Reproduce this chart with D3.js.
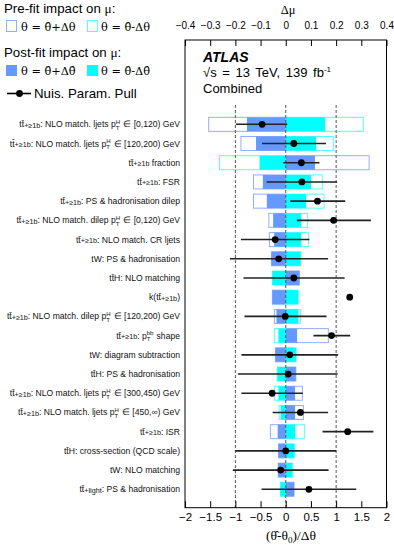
<!DOCTYPE html>
<html>
<head>
<meta charset="utf-8">
<script src="https://cdn.jsdelivr.net/npm/d3@7"></script>
<style>
  body { margin: 0; background: #fff; }
  svg { display: block; font-family: "Liberation Sans", Arial, sans-serif; }
</style>
</head>
<body>
<div id="chart"></div>
<script>
// nuisance parameter labels, top to bottom
var labels = [
  "{ttb}: NLO match. ljets {pTH} ∈ [0,120) GeV",
  "{ttb}: NLO match. ljets {pTH} ∈ [120,200) GeV",
  "{ttb} fraction",
  "{ttb}: FSR",
  "{ttb}: PS & hadronisation dilep",
  "{ttb}: NLO match. dilep {pTH} ∈ [0,120) GeV",
  "{ttb}: NLO match. CR ljets",
  "tW: PS & hadronisation",
  "{tt}H: NLO matching",
  "k({ttb})",
  "{ttb}: NLO match. dilep {pTH} ∈ [120,200) GeV",
  "{ttb}: {pTbb} shape",
  "tW: diagram subtraction",
  "{tt}H: PS & hadronisation",
  "{ttb}: NLO match. ljets {pTH} ∈ [300,450) GeV",
  "{ttb}: NLO match. ljets {pTH} ∈ [450,∞) GeV",
  "{ttb}: ISR",
  "{tt}H: cross-section (QCD scale)",
  "tW: NLO matching",
  "{ttl}: PS & hadronisation"
];

// impact on mu (delta mu)
var prefitUp   = [-0.306, -0.178, 0.331, -0.128, -0.128, -0.067, -0.065, -0.057, 0.054, -0.053, -0.045, 0.169, -0.041, 0.040, 0.066, 0.070, -0.061, -0.029, -0.030, 0.033];
var prefitDown = [0.308, 0.189, -0.263, 0.145, 0.152, 0.087, 0.090, 0.059, -0.053, 0.049, 0.058, -0.045, 0.041, -0.033, -0.045, -0.026, 0.074, 0.034, 0.026, -0.021];
var postfitUp   = [-0.154, -0.118, 0.116, -0.091, -0.075, -0.050, -0.046, -0.057, 0.054, -0.053, -0.037, 0.045, -0.041, 0.040, 0.037, 0.037, -0.032, -0.029, -0.030, 0.033];
var postfitDown = [0.156, 0.120, -0.104, 0.100, 0.081, 0.061, 0.061, 0.059, -0.053, 0.049, 0.050, -0.029, 0.041, -0.033, -0.029, -0.020, 0.037, 0.034, 0.026, -0.021];

// pulls (theta_hat - theta_0)/dtheta with errors
var pulls   = [-0.47, 0.16, 0.31, 0.32, 0.63, 0.95, -0.21, -0.14, 0.16, 1.27, -0.01, 0.91, 0.08, 0.05, -0.27, 0.29, 1.23, 0.00, -0.10, 0.46];
var pullLo  = [0.52, 0.63, 0.36, 0.70, 0.54, 0.73, 0.68, 0.97, 1.00, 0.05, 0.81, 0.36, 0.96, 1.00, 0.61, 0.55, 0.50, 1.00, 0.95, 0.94];
var pullHi  = [0.50, 0.64, 0.36, 0.70, 0.55, 0.74, 0.68, 0.98, 1.01, 0.05, 0.82, 0.37, 0.96, 0.98, 0.61, 0.55, 0.51, 1.00, 0.95, 0.94];

var W = 394, H = 547;
var pLeft = 185, pRight = 386.5, pTop = 40, pBottom = 507.7;
var blue = "#6699ff", cyan = "#00ffff";
var blueLine = "#8fb0ff", cyanLine = "#55ffff";
var serif = "'Liberation Serif', 'Times New Roman', serif";

var svg = d3.select("#chart").append("svg")
  .attr("width", W).attr("height", H);

var x = d3.scaleLinear().domain([-2, 2]).range([pLeft, pRight]);
var xMu = d3.scaleLinear().domain([-0.4, 0.4]).range([pLeft, pRight]);
var y = d3.scaleBand().domain(d3.range(labels.length)).range([114.7, 114.7 + 19.21 * labels.length]);
var fmt = d3.format("~g");

var rows = labels.map(function(l, i){
  return { i: i, label: l, preUp: prefitUp[i], preDn: prefitDown[i], postUp: postfitUp[i], postDn: postfitDown[i],
    pull: pulls[i], lo: pullLo[i], hi: pullHi[i] };
});

// bars helper
function bar(g, key, h, fill, stroke){
  g.selectAll("rect." + key)
    .data(rows).enter().append("rect")
    .attr("class", key)
    .attr("x", function(d){ return xMu(Math.min(0, d[key])); })
    .attr("width", function(d){ return Math.abs(xMu(d[key]) - xMu(0)); })
    .attr("y", function(d){ return y(d.i) + (y.bandwidth() - h) / 2; })
    .attr("height", h)
    .attr("fill", fill)
    .attr("stroke", stroke)
    .attr("stroke-width", stroke == "none" ? 0 : 1);
}

var gBars = svg.append("g");
bar(gBars, "preUp", 14, "none", blueLine);
bar(gBars, "preDn", 14, "none", cyanLine);
bar(gBars, "postUp", 14, blue, "none");
bar(gBars, "postDn", 14, cyan, "none");

// dashed reference lines
svg.append("g").selectAll("line")
  .data([-1, 0, 1]).enter().append("line")
  .attr("x1", function(d){ return x(d); }).attr("x2", function(d){ return x(d); })
  .attr("y1", 105).attr("y2", pBottom)
  .attr("stroke", "#555").attr("stroke-width", 1)
  .attr("stroke-dasharray", "3,2");

// pulls
var gPull = svg.append("g");
gPull.selectAll("line")
  .data(rows).enter().append("line")
  .attr("x1", function(d){ return x(d.pull - d.lo); })
  .attr("x2", function(d){ return x(d.pull + d.hi); })
  .attr("y1", function(d){ return y(d.i) + y.bandwidth() / 2; })
  .attr("y2", function(d){ return y(d.i) + y.bandwidth() / 2; })
  .attr("stroke", "#222").attr("stroke-width", 1.6);
gPull.selectAll("circle")
  .data(rows).enter().append("circle")
  .attr("cx", function(d){ return x(d.pull); })
  .attr("cy", function(d){ return y(d.i) + y.bandwidth() / 2; })
  .attr("r", 3.4)
  .attr("fill", "#000");

// frame
svg.append("rect")
  .attr("x", pLeft).attr("y", pTop)
  .attr("width", pRight - pLeft).attr("height", pBottom - pTop)
  .attr("fill", "none").attr("stroke", "#000").attr("stroke-width", 1);

// bottom axis
var gx = svg.append("g").attr("transform", "translate(0," + pBottom + ")");
gx.call(d3.axisBottom(x).tickValues(x.ticks(40)).tickSize(-3).tickFormat(""));
gx.call(d3.axisBottom(x).tickValues(x.ticks(8)).tickSize(-6.5).tickPadding(5.2).tickFormat(fmt));
gx.selectAll(".domain").remove();
gx.selectAll("text").attr("font-size", 11.5).attr("font-family", "'Liberation Sans', Arial, sans-serif").attr("fill", "#000");

// top axis
var gt = svg.append("g").attr("transform", "translate(0," + pTop + ")");
gt.call(d3.axisTop(xMu).tickValues(xMu.ticks(40)).tickSize(-3).tickFormat(""));
gt.call(d3.axisTop(xMu).tickValues(xMu.ticks(8)).tickSize(-6).tickPadding(11.5).tickFormat(fmt));
gt.selectAll(".domain").remove();
gt.selectAll("text").attr("font-size", 10).attr("font-family", "'Liberation Sans', Arial, sans-serif").attr("fill", "#000");

svg.append("text")
  .attr("x", 288).attr("y", 13.5)
  .attr("text-anchor", "middle")
  .attr("font-family", serif).attr("font-size", 12.5)
  .text("Δμ");

svg.append("text")
  .attr("x", 291).attr("y", 540)
  .attr("text-anchor", "middle")
  .attr("font-family", serif).attr("font-size", 13.5)
  .call(function(t){
    t.append("tspan").text("(θ\u0302-θ");
    t.append("tspan").attr("font-size", 9).attr("dy", 3).text("0");
    t.append("tspan").attr("dy", -3).text(")/Δθ");
  });

// y labels with small markup for ttbar, pT etc
function labelSegments(str){
  var segs = [];
  str.split(/(\{[^}]+\})/).forEach(function(p){
    if(!p) return;
    if(p == "{ttb}"){ segs.push({t: "tt\u0304"}); segs.push({t: "+≥1b", s: 7.2, off: 0.5}); }
    else if(p == "{ttl}"){ segs.push({t: "tt\u0304"}); segs.push({t: "+light", s: 7.2, off: 0.5}); }
    else if(p == "{tt}"){ segs.push({t: "tt\u0304"}); }
    else if(p == "{pTH}" || p == "{pTbb}"){
      var sup = p == "{pTH}" ? "H" : "bb";
      var wSup = p == "{pTH}" ? 4.3 : 6.7;
      segs.push({t: "p"});
      segs.push({t: sup, s: 6, off: -3.4});
      segs.push({t: "T", s: 6, off: 2.4, dx: -wSup});
      segs.push({t: "", dxNext: wSup - 3.7 + 0.8});
    }
    else segs.push({t: p});
  });
  return segs;
}

var gLab = svg.append("g");
rows.forEach(function(d){
  var t = gLab.append("text")
    .attr("x", 180)
    .attr("y", y(d.i) + y.bandwidth() / 2 + 3)
    .attr("text-anchor", "end")
    .attr("font-size", 8.6)
    .attr("fill", "#111");
  var cur = 0, extra = 0;
  labelSegments(d.label).forEach(function(s){
    if(s.dxNext !== undefined){ extra = s.dxNext; return; }
    var off = s.off || 0;
    var ts = t.append("tspan").text(s.t).attr("dy", off - cur);
    if(s.s) ts.attr("font-size", s.s);
    var dx = (s.dx || 0) + extra;
    if(dx) ts.attr("dx", dx);
    extra = 0;
    cur = off;
  });
});

// ATLAS label
svg.append("text")
  .attr("x", 203).attr("y", 62)
  .attr("font-size", 14).attr("font-weight", "bold").attr("font-style", "italic")
  .text("ATLAS");
svg.append("text")
  .attr("x", 203).attr("y", 76.5)
  .attr("font-size", 13).attr("word-spacing", 2)
  .call(function(t){
    t.append("tspan").text("√s = 13 TeV, 139 fb");
    t.append("tspan").attr("font-size", 8).attr("dy", -5).text("-1");
  });
svg.append("text")
  .attr("x", 203).attr("y", 93)
  .attr("font-size", 13)
  .text("Combined");

// legend
var lg = svg.append("g");
function legendTitle(yy, txt){
  lg.append("text").attr("x", 4).attr("y", yy).attr("font-size", 13.3)
    .call(function(t){
      t.append("tspan").text(txt);
      t.append("tspan").attr("font-family", serif).text("μ");
      t.append("tspan").text(":");
    });
}
function legendLabel(xx, yy, txt){
  lg.append("text").attr("x", xx).attr("y", yy)
    .attr("font-family", "'DejaVu Serif', " + serif).attr("font-size", 11.3)
    .text(txt);
}
legendTitle(13, "Pre-fit impact on ");
lg.append("rect").attr("x", 6.5).attr("y", 20.5).attr("width", 10).attr("height", 11)
  .attr("fill", "none").attr("stroke", blueLine);
legendLabel(21, 30.5, "θ = θ\u0302+Δθ");
lg.append("rect").attr("x", 87.5).attr("y", 20.5).attr("width", 10).attr("height", 11)
  .attr("fill", "none").attr("stroke", cyanLine);
legendLabel(101, 30.5, "θ = θ\u0302-Δθ");

legendTitle(56.5, "Post-fit impact on ");
lg.append("rect").attr("x", 6).attr("y", 65).attr("width", 11).attr("height", 11).attr("fill", blue);
legendLabel(21, 75, "θ = θ\u0302+Δθ\u0302");
lg.append("rect").attr("x", 87).attr("y", 65).attr("width", 11).attr("height", 11).attr("fill", cyan);
legendLabel(101, 75, "θ = θ\u0302-Δθ\u0302");

lg.append("line").attr("x1", 7).attr("x2", 31).attr("y1", 93.5).attr("y2", 93.5)
  .attr("stroke", "#000").attr("stroke-width", 1.6);
lg.append("circle").attr("cx", 19.5).attr("cy", 93.5).attr("r", 3.4).attr("fill", "#000");
lg.append("text").attr("x", 34).attr("y", 98).attr("font-size", 13.3).text("Nuis. Param. Pull");
</script>
</body>
</html>
